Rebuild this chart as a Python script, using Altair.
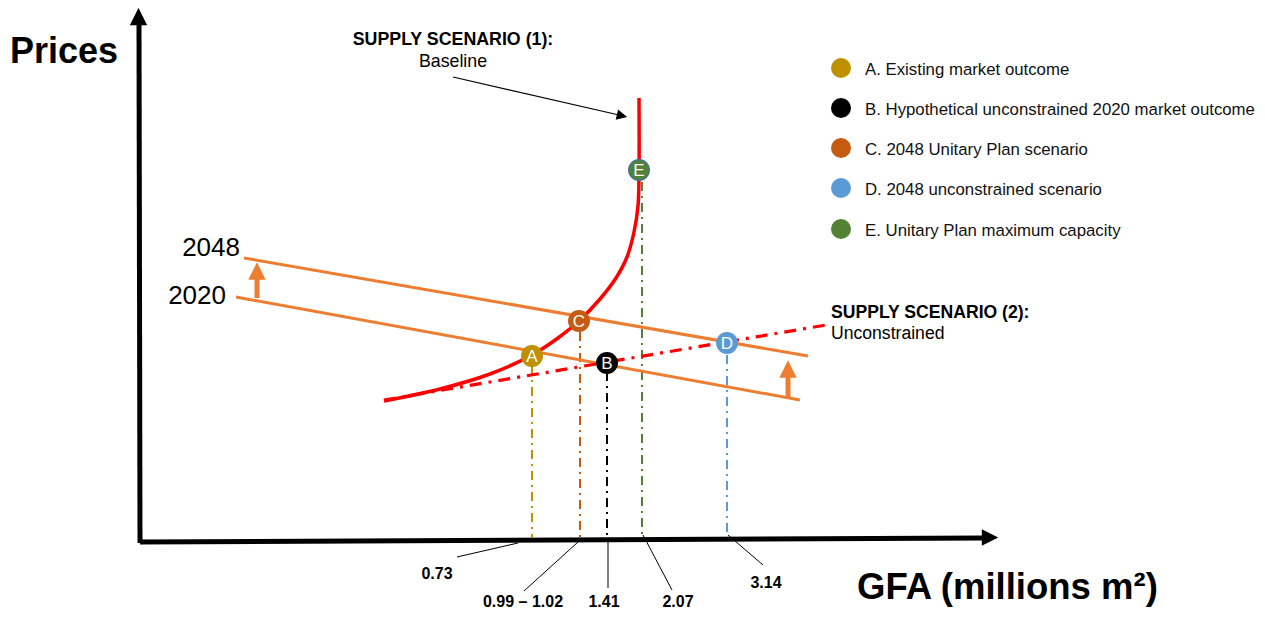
import altair as alt
import pandas as pd

# ---- canvas (diagram units, origin top-left) ----
W, H = 1249, 601
X0, Y0 = 8, 8
FONT = "Liberation Sans"

# ---- data (diagram units) ----
axis_x = [139, 140, 140, 984]
axis_y = [25, 543, 542, 538]

supply_x = [384, 440, 490, 532, 558, 579, 600, 616, 627, 634, 638, 639, 639]
supply_y = [401, 389, 374, 355, 338, 321, 299, 278, 257, 232, 206, 175, 98]

uncon_x = [384, 826]
uncon_y = [400, 325]

demand_years = ["2020", "2048"]
demand_x = [236, 244]
demand_y = [297, 258]
demand_x2 = [800, 808]
demand_y2 = [400, 356]
demand_label_x = [226, 240]
demand_label_y = [304, 256]

pt_names = ["A", "B", "C", "D", "E"]
pt_x = [532, 607, 579, 727, 639]
pt_y = [356, 363, 321, 343, 170]
pt_colors = ["#BF9000", "#000000", "#C55A11", "#5B9BD5", "#548235"]
pt_outline = ["#BF9000", "#000000", "#C55A11", "#5B9BD5", "#41719C"]
drop_x = [532, 607, 580, 727, 642]
drop_top = [366, 372, 332, 355, 182]
drop_bottom = [538, 538, 540, 536, 536]

legend_labels = [
    "A. Existing market outcome",
    "B. Hypothetical unconstrained 2020 market outcome",
    "C. 2048 Unitary Plan scenario",
    "D. 2048 unconstrained scenario",
    "E. Unitary Plan maximum capacity",
]
legend_y = [68, 108, 148, 188, 229]

gfa_labels = ["0.73", "0.99 \u2013 1.02", "1.41", "2.07", "3.14"]
gfa_lead_x = [518, 578, 608, 643, 728]
gfa_lead_y = [543, 542, 542, 535, 535]
gfa_lead_x2 = [457, 524, 608, 672, 763]
gfa_lead_y2 = [557, 591, 588, 590, 565]
gfa_text_x = [437, 523, 604, 678, 766]
gfa_text_y = [579, 607, 607, 607, 588]

shift_arrow_x = [257, 788]
shift_arrow_y = [298, 397]
shift_arrow_y2 = [278, 376]
shift_head_y = [271, 369]

xs = alt.Scale(domain=[X0, X0 + W])
ys = alt.Scale(domain=[Y0, Y0 + H], reverse=True)


def X(f="x"):
    return alt.X(f + ":Q", scale=xs, axis=None)


def Y(f="y"):
    return alt.Y(f + ":Q", scale=ys, axis=None)


def seg(x, y, x2, y2):
    return pd.DataFrame({"x": x, "y": y, "x2": x2, "y2": y2})


layers = []

# axes
layers.append(alt.Chart(seg([axis_x[0], axis_x[2]], [axis_y[0], axis_y[2]], [axis_x[1], axis_x[3]], [axis_y[1], axis_y[3]]))
              .mark_rule(color="black", strokeWidth=5)
              .encode(x=X(), y=Y(), x2="x2:Q", y2="y2:Q"))
layers.append(alt.Chart(pd.DataFrame({"x": [138.5], "y": [16.5]}))
              .mark_point(shape="M0,-1L1,1L-1,1Z", filled=True, opacity=1, color="black", size=300)
              .encode(x=X(), y=Y()))
layers.append(alt.Chart(pd.DataFrame({"x": [990], "y": [537.5]}))
              .mark_point(shape="M-1,-1L1,0L-1,1Z", filled=True, opacity=1, color="black", size=270)
              .encode(x=X(), y=Y()))

# drop lines
drops = pd.DataFrame({"x": drop_x, "y": drop_top, "y2": drop_bottom, "c": pt_colors})
layers.append(alt.Chart(drops).mark_rule(strokeWidth=2, strokeDash=[9, 5, 2, 5])
              .encode(x=X(), y=Y(), y2="y2:Q", color=alt.Color("c:N", scale=None)))

# demand lines
layers.append(alt.Chart(seg(demand_x, demand_y, demand_x2, demand_y2)).mark_rule(color="#ED7D31", strokeWidth=3)
              .encode(x=X(), y=Y(), x2="x2:Q", y2="y2:Q"))
dlab = pd.DataFrame({"x": demand_label_x, "y": demand_label_y, "t": demand_years})
layers.append(alt.Chart(dlab).mark_text(align="right", baseline="alphabetic", font=FONT, fontSize=26, color="black")
              .encode(x=X(), y=Y(), text="t:N"))

# shift arrows
sa = pd.DataFrame({"x": shift_arrow_x, "y": shift_arrow_y, "y2": shift_arrow_y2, "h": shift_head_y})
layers.append(alt.Chart(sa).mark_rule(color="#ED7D31", strokeWidth=5)
              .encode(x=X(), y=Y(), y2="y2:Q"))
layers.append(alt.Chart(sa).mark_point(shape="M0,-1L1,1L-1,1Z", filled=True, opacity=1, color="#ED7D31", size=300)
              .encode(x=X(), y=Y("h")))

# unconstrained supply
layers.append(alt.Chart(seg([uncon_x[0]], [uncon_y[0]], [uncon_x[1]], [uncon_y[1]]))
              .mark_rule(color="#FF0000", strokeWidth=3.2, strokeDash=[12, 7, 3, 7])
              .encode(x=X(), y=Y(), x2="x2:Q", y2="y2:Q"))

# baseline supply curve
sup = pd.DataFrame({"x": supply_x, "y": supply_y, "i": list(range(len(supply_x)))})
layers.append(alt.Chart(sup).mark_line(color="#FF0000", strokeWidth=3.5, interpolate="catmull-rom")
              .encode(x=X(), y=Y(), order="i:Q"))

# points
pts = pd.DataFrame({"x": pt_x, "y": pt_y, "n": pt_names, "c": pt_colors, "o": pt_outline})
layers.append(alt.Chart(pts).mark_circle(size=430, opacity=1, strokeWidth=1.2)
              .encode(x=X(), y=Y(), color=alt.Color("c:N", scale=None), stroke=alt.Stroke("o:N", scale=None)))
layers.append(alt.Chart(pts).mark_text(font=FONT, fontSize=17, color="white", baseline="middle", dy=1)
              .encode(x=X(), y=Y(), text="n:N"))

# gfa leaders and labels
layers.append(alt.Chart(seg(gfa_lead_x, gfa_lead_y, gfa_lead_x2, gfa_lead_y2)).mark_rule(color="black", strokeWidth=1)
              .encode(x=X(), y=Y(), x2="x2:Q", y2="y2:Q"))
gt = pd.DataFrame({"x": gfa_text_x, "y": gfa_text_y, "t": gfa_labels})
layers.append(alt.Chart(gt).mark_text(font=FONT, fontSize=16, fontWeight="bold", baseline="alphabetic", color="black")
              .encode(x=X(), y=Y(), text="t:N"))

# baseline annotation arrow
layers.append(alt.Chart(seg([453], [77], [619], [115])).mark_rule(color="black", strokeWidth=1.2)
              .encode(x=X(), y=Y(), x2="x2:Q", y2="y2:Q"))
layers.append(alt.Chart(pd.DataFrame({"x": [622], "y": [115.8], "a": [13]}))
              .mark_point(shape="M-1,-1L1,0L-1,1Z", filled=True, opacity=1, color="black", size=110)
              .encode(x=X(), y=Y(), angle=alt.Angle("a:Q", scale=None)))

# legend
lg = pd.DataFrame({"x": [841] * 5, "y": legend_y, "c": pt_colors, "t": legend_labels,
                   "ty": [v + 6.5 for v in legend_y], "tx": [865] * 5})
layers.append(alt.Chart(lg).mark_circle(size=400, opacity=1)
              .encode(x=X(), y=Y(), color=alt.Color("c:N", scale=None)))
layers.append(alt.Chart(lg).mark_text(font=FONT, fontSize=16.8, align="left", baseline="alphabetic", color="#111111")
              .encode(x=X("tx"), y=Y("ty"), text="t:N"))

# titles / annotations
layers.append(alt.Chart(pd.DataFrame({"x": [10], "y": [63], "t": ["Prices"]}))
              .mark_text(font=FONT, fontSize=36, fontWeight="bold", align="left", baseline="alphabetic", color="black")
              .encode(x=X(), y=Y(), text="t:N"))
layers.append(alt.Chart(pd.DataFrame({"x": [857], "y": [599], "t": ["GFA (millions m\u00b2)"]}))
              .mark_text(font=FONT, fontSize=36.5, fontWeight="bold", align="left", baseline="alphabetic", color="black")
              .encode(x=X(), y=Y(), text="t:N"))
layers.append(alt.Chart(pd.DataFrame({"x": [453], "y": [45], "t": ["SUPPLY SCENARIO (1):"]}))
              .mark_text(font=FONT, fontSize=17.8, fontWeight="bold", align="center", baseline="alphabetic", color="black")
              .encode(x=X(), y=Y(), text="t:N"))
layers.append(alt.Chart(pd.DataFrame({"x": [831], "y": [318], "t": ["SUPPLY SCENARIO (2):"]}))
              .mark_text(font=FONT, fontSize=17.6, fontWeight="bold", align="left", baseline="alphabetic", color="black")
              .encode(x=X(), y=Y(), text="t:N"))
layers.append(alt.Chart(pd.DataFrame({"x": [453], "y": [67], "t": ["Baseline"]}))
              .mark_text(font=FONT, fontSize=17.8, align="center", baseline="alphabetic", color="black")
              .encode(x=X(), y=Y(), text="t:N"))
layers.append(alt.Chart(pd.DataFrame({"x": [831], "y": [339], "t": ["Unconstrained"]}))
              .mark_text(font=FONT, fontSize=17.6, align="left", baseline="alphabetic", color="black")
              .encode(x=X(), y=Y(), text="t:N"))

chart = alt.layer(*layers).properties(
    width=W, height=H, padding=0, autosize=alt.AutoSizeParams(type="none"), background="white"
).configure_view(stroke=None)

chart.save("out.html", embed_options={"renderer": "svg", "actions": False})
